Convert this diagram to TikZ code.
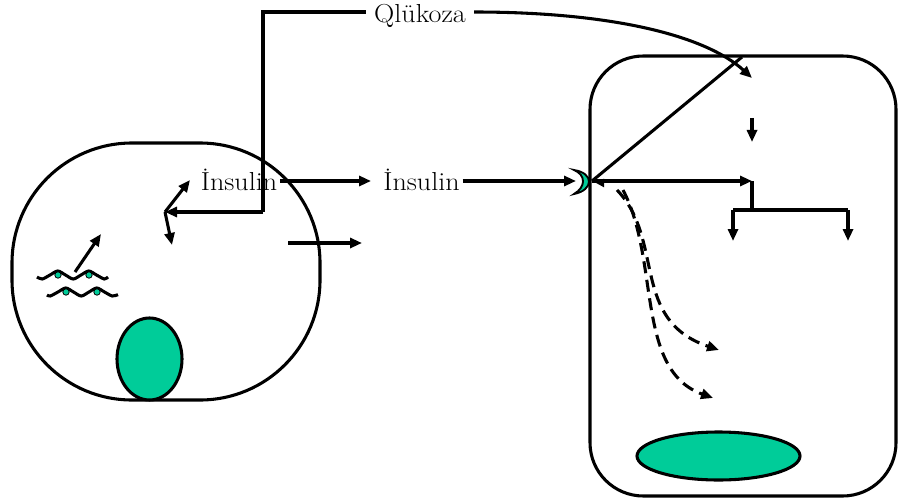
\documentclass[tikz,border=0pt]{standalone}
\usetikzlibrary{arrows.meta}
\definecolor{cellgreen}{RGB}{0,204,153}
\begin{document}
\begin{tikzpicture}[x=0.75pt,y=-0.75pt,
  line/.style={line width=2.3pt},
  arr/.style={line, -{Triangle[length=9pt,width=7.5pt]}},
  dasharr/.style={line, dash pattern=on 9pt off 5pt, -{Triangle[length=9pt,width=7.5pt]}},
  membrane/.style={line width=2.3pt},
  nucleus/.style={draw, line width=2.3pt, fill=cellgreen},
  lbl/.style={inner ysep=1.5pt, inner xsep=2pt, anchor=base, font=\fontsize{19.5}{22}\selectfont},
  dna/.style={line width=2.3pt},
  dot/.style={fill=cellgreen, draw=black, line width=0.6pt}
]
\useasboundingbox (0,0) rectangle (898,499);

% secreting cell and its nucleus
\draw[membrane, rounded corners=90pt] (12,143) rectangle (320,400);
\draw[nucleus] (149.5,359) ellipse [x radius=32.5, y radius=41];

% target cell and its nucleus
\draw[membrane, rounded corners=40pt] (590,56) rectangle (896,496);
\draw[nucleus] (718.5,456) ellipse [x radius=81.5, y radius=24];

% labels
\node[lbl, inner xsep=6pt] (glc) at (420,23) {\scalebox{1.08}[1]{Qlükoza}};
\node[lbl] (ins1) at (239,190) {\scalebox{1.08}[1]{İnsulin}};
\node[lbl] (ins2) at (421.5,190) {\scalebox{1.08}[1]{İnsulin}};

% branch points
\coordinate (corner) at (263,12);
\coordinate (bend) at (263,212);
\coordinate (hub) at (165,212);
\coordinate (up) at (190,180);
\coordinate (down) at (172,245);
\coordinate (out) at (592,181);
\coordinate (top) at (742,57);
\coordinate (gin) at (752,78);
\coordinate (mid) at (752,181);
\coordinate (fork) at (752,210);
\coordinate (forkL) at (733,210);
\coordinate (forkR) at (848,210);

% glucose signal into the secreting cell
\draw[line] (glc.west |- corner) -- (corner) -- (bend);
\draw[arr] (bend) -- (hub);
\draw[arr] (hub) -- (up);
\draw[arr] (hub) -- (down);

% glucose uptake by the target cell
\draw[arr] (glc.east |- corner) .. controls (610,12) and (705,35) .. (gin);

% insulin secretion and transport
\draw[arr, shorten >=7pt] (ins1.east |- out) -- (ins2.west |- out);
\draw[arr] (ins2.east |- out) -- (576,181);
\draw[arr] (288,243) -- (362,243);

% DNA strands
\draw[dna] plot[smooth] coordinates {(37,277) (42.25,279) (50,275) (57.75,271) (65.5,275)
  (73.25,279) (81,275) (88.75,271) (96.5,275) (104.25,279) (108,277)};
\draw[dna] plot[smooth] coordinates {(47,295) (50.25,296) (58,292) (65.75,288) (73.5,292)
  (81.25,296) (89,292) (96.75,288) (104.5,292) (112.25,296) (118,294.6)};
\foreach \p in {(58,275),(89,275),(66,292),(97,292)}
  \fill[dot] \p circle [radius=3.2];
\draw[arr] (75,272) -- (101,234);

% receptor on the target cell
\draw[line width=1.4pt, fill=cellgreen]
  (574,170) .. controls (594,173) and (594,190) .. (574,194)
  .. controls (586,187) and (586,175) .. cycle;

% signalling inside the target cell
\draw[line] (out) -- (top);
\draw[arr] (out) -- (mid);
\draw[line, -{Triangle[length=6pt,width=6pt]}] (602,183) -- (596,183);
\draw[arr] (752,118) -- (752,142);
\draw[line] (mid) -- (fork);
\draw[line] (forkL) -- (forkR);
\draw[arr] (forkL) -- (733,241);
\draw[arr] (forkR) -- (848,241);

% vesicle pathways
\draw[dasharr] (617,190) .. controls (665,240) and (630,320) .. (719,350);
\draw[dasharr] (623,190) .. controls (660,260) and (635,370) .. (713,398);
\end{tikzpicture}
\end{document}
